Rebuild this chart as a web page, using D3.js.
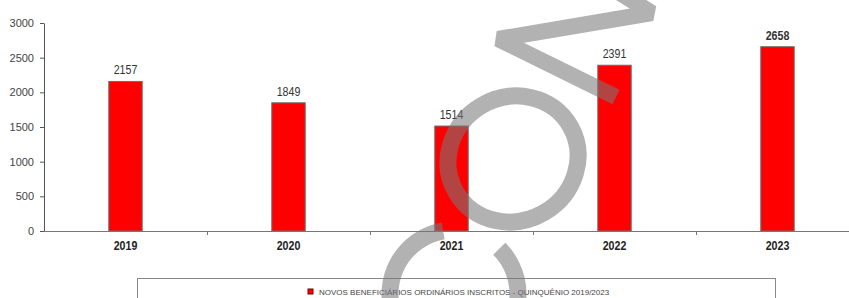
<!DOCTYPE html>
<html>
<head>
<meta charset="utf-8">
<script src="https://cdn.jsdelivr.net/npm/d3@7/dist/d3.min.js"></script>
<style>
  html, body { margin: 0; padding: 0; background: #fff; }
  svg { display: block; }
</style>
</head>
<body>
<svg id="chart" width="849" height="298"></svg>
<script>
// chart data
const years = ['2019', '2020', '2021', '2022', '2023'];
const values = [2157, 1849, 1514, 2391, 2658];
const boldYears = ['2023']; // last year value label is bold
const yTicks = [0, 500, 1000, 1500, 2000, 2500, 3000];
const legendLabel = 'NOVOS BENEFICIÁRIOS ORDINÁRIOS INSCRITOS - QUINQUÊNIO 2019/2023';

const W = 849, H = 298;
const plot = { left: 44, right: 859, top: 23, bottom: 231 };
const narrow = 0.82; // no narrow font installed, squeeze the labels instead

const svg = d3.select('#chart');

// scales
const x = d3.scaleBand()
    .domain(years)
    .range([plot.left, plot.right])
    .padding(0);

const y = d3.scaleLinear()
    .domain([0, 3000])
    .range([plot.bottom, plot.top]);

const barW = x.bandwidth() * 0.205;
const cx = (d) => x(d) + x.bandwidth() / 2;

// y axis
const yAxis = svg.append('g')
    .attr('transform', `translate(${plot.left},0)`)
    .call(d3.axisLeft(y).tickValues(yTicks).tickFormat(d3.format('d'))
        .tickSize(4).tickPadding(6).tickSizeOuter(0));
yAxis.select('.domain').attr('stroke', '#555');
yAxis.selectAll('.tick line').attr('stroke', '#555');
yAxis.selectAll('.tick text')
    .attr('fill', '#444')
    .style('font-family', '"Liberation Sans", Arial, sans-serif')
    .style('font-size', '11px');

// bars
svg.append('g')
    .selectAll('rect')
    .data(years)
    .join('rect')
    .attr('x', (d) => cx(d) - barW / 2)
    .attr('y', (d, i) => y(values[i]))
    .attr('width', barW)
    .attr('height', (d, i) => y(0) - y(values[i]))
    .attr('fill', '#ff0000')
    .attr('stroke', '#6e6e6e')
    .attr('stroke-width', 1);

// x axis line + ticks between categories
svg.append('line')
    .attr('x1', plot.left).attr('x2', W)
    .attr('y1', y(0) + 0.5).attr('y2', y(0) + 0.5)
    .attr('stroke', '#777');

svg.append('g')
    .selectAll('line')
    .data(years.slice(1))
    .join('line')
    .attr('x1', (d) => Math.round(x(d)) + 0.5)
    .attr('x2', (d) => Math.round(x(d)) + 0.5)
    .attr('y1', y(0))
    .attr('y2', y(0) + 4)
    .attr('stroke', '#777');

// category labels
svg.append('g')
    .selectAll('text')
    .data(years)
    .join('text')
    .attr('transform', (d) => `translate(${cx(d)},250) scale(${narrow},1)`)
    .attr('text-anchor', 'middle')
    .attr('fill', '#222')
    .style('font-family', '"Liberation Sans", Arial, sans-serif')
    .style('font-weight', 'bold')
    .style('font-size', '13px')
    .text((d) => d);

// value labels
svg.append('g')
    .selectAll('text')
    .data(years)
    .join('text')
    .attr('transform', (d, i) => `translate(${cx(d)},${y(values[i]) - 7}) scale(${narrow},1)`)
    .attr('text-anchor', 'middle')
    .attr('fill', '#333')
    .style('font-family', '"Liberation Sans", Arial, sans-serif')
    .style('font-weight', (d) => boldYears.includes(d) ? 'bold' : 'normal')
    .style('font-size', '13px')
    .text((d, i) => values[i]);

// legend box
const legend = svg.append('g');
legend.append('rect')
    .attr('x', 137.5).attr('y', 278.5)
    .attr('width', 638).attr('height', 40)
    .attr('fill', '#fff')
    .attr('stroke', '#888');
legend.append('rect')
    .attr('x', 308).attr('y', 289)
    .attr('width', 5).attr('height', 5)
    .attr('fill', '#ff0000')
    .attr('stroke', '#700');
legend.append('text')
    .attr('x', 319).attr('y', 294.5)
    .attr('fill', '#444')
    .style('font-family', '"Liberation Sans", Arial, sans-serif')
    .style('font-size', '8px')
    .text(legendLabel);

// grey watermark drawn over everything
const mark = svg.append('g')
    .attr('fill', 'none')
    .attr('stroke', 'rgb(120,120,120)')
    .attr('stroke-width', 17)
    .attr('opacity', 0.57);

// "C" arc at the bottom
const cArc = d3.arc()
    .innerRadius(64 - 8.5)
    .outerRadius(64 + 8.5)
    .startAngle(Math.PI / 4)          // d3 angles: 0 = up, clockwise
    .endAngle(2 * Math.PI - 0.17);
mark.append('path')
    .attr('transform', 'translate(454,294)')
    .attr('d', cArc())
    .attr('fill', 'rgb(120,120,120)')
    .attr('stroke', 'none');

// "O"
mark.append('ellipse')
    .attr('cx', 513).attr('cy', 159)
    .attr('rx', 66).attr('ry', 62)
    .attr('transform', 'rotate(-30,513,159)');

// zigzag stroke at the top
mark.append('path')
    .attr('d', d3.line()([[616, 97], [498, 39], [652, 13], [615, -10]]))
    .attr('stroke-width', 16)
    .attr('stroke-linejoin', 'bevel');
</script>
</body>
</html>
